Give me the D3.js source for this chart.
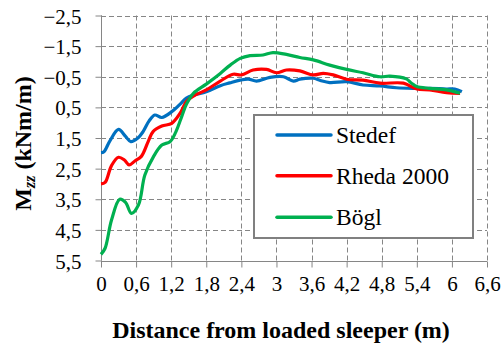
<!DOCTYPE html>
<html>
<head>
<meta charset="utf-8">
<script src="https://cdn.jsdelivr.net/npm/d3@7"></script>
<style>
body{margin:0;background:#fff}
svg{display:block}
svg text{font-family:"Liberation Serif","Times New Roman",Times,serif}
</style>
</head>
<body>
<script>
// tick values
var xTicks=[0,0.6,1.2,1.8,2.4,3,3.6,4.2,4.8,5.4,6,6.6]
var yTicks=[-2.5,-1.5,-0.5,0.5,1.5,2.5,3.5,4.5,5.5]
var seriesNames=["Stedef","Rheda 2000","Bögl"]

// Stedef
var stedefX=[0,0.05,0.15,0.30,0.42,0.51,0.62,0.72,0.82,0.92,1.04,1.21,1.35,1.46,1.58,1.80,2.04,2.2,2.38,2.52,2.66,2.89,3.12,3.29,3.40,3.63,3.75,3.91,4.20,4.48,4.77,5.05,5.34,5.62,5.91,6.05,6.17]
var stedefY=[1.98,1.95,1.6,1.22,1.45,1.62,1.52,1.29,0.95,0.75,0.83,0.64,0.40,0.20,0.10,-0.01,-0.21,-0.30,-0.39,-0.42,-0.36,-0.48,-0.50,-0.36,-0.42,-0.45,-0.38,-0.31,-0.34,-0.23,-0.20,-0.14,-0.12,-0.12,-0.10,-0.10,-0.01]
// Rheda 2000
var rhedaX=[0,0.07,0.18,0.30,0.40,0.48,0.58,0.69,0.81,0.89,1.04,1.21,1.35,1.46,1.58,1.80,2.04,2.26,2.40,2.60,2.83,3.00,3.17,3.40,3.63,3.80,3.97,4.20,4.48,4.77,5.17,5.40,5.62,5.91,6.14]
var rhedaY=[3.0,2.95,2.4,2.13,2.22,2.38,2.25,2.1,1.6,1.29,1.11,1.02,0.70,0.31,0.13,-0.07,-0.36,-0.58,-0.56,-0.72,-0.74,-0.63,-0.72,-0.69,-0.56,-0.61,-0.56,-0.42,-0.39,-0.29,-0.29,-0.10,-0.07,0.02,0.04]
// Bögl
var boeglX=[0,0.07,0.18,0.32,0.42,0.52,0.64,0.75,0.90,1.04,1.18,1.28,1.38,1.46,1.58,1.80,2.04,2.21,2.38,2.55,2.77,2.94,3.17,3.40,3.63,3.91,4.20,4.48,4.77,4.94,5.22,5.31,5.40,5.62,5.91,6.14]
var boeglY=[5.3,5.1,4.18,3.5,3.6,3.96,3.69,2.71,2.1,1.73,1.62,1.3,0.80,0.40,0.04,-0.26,-0.61,-0.88,-1.10,-1.19,-1.21,-1.29,-1.23,-1.13,-1.05,-0.88,-0.74,-0.63,-0.50,-0.52,-0.43,-0.29,-0.18,-0.12,-0.07,0.04]

var colors=["#0070C0","#FF0000","#00B050"]
var width=503,height=343

var loc=d3.formatLocale({decimal:",",thousands:".",grouping:[3],currency:["","€"]})
var fmtY=loc.format(".1f")
var fmtX=loc.format("~g")

var svg=d3.select("body").append("svg")
          .attr("width",width)
          .attr("height",height)

var x=d3.scaleLinear().domain([0,6.6]).range([101,487])
var y=d3.scaleLinear().domain([-2.5,5.5]).range([15.5,260.5])

// grid
svg.append("g").selectAll("line.hg")
   .data(yTicks)
   .enter()
   .append("line")
   .attr("x1",x(0)).attr("x2",x(6.6))
   .attr("y1",function(d){return Math.round(y(d))+0.5})
   .attr("y2",function(d){return Math.round(y(d))+0.5})
   .attr("stroke","#868686")
   .attr("stroke-dasharray","5,3")
svg.append("g").selectAll("line.vg")
   .data(xTicks)
   .enter()
   .append("line")
   .attr("y1",y(-2.5)).attr("y2",y(5.5))
   .attr("x1",function(d){return Math.round(x(d))+0.5})
   .attr("x2",function(d){return Math.round(x(d))+0.5})
   .attr("stroke","#868686")
   .attr("stroke-dasharray","5,3")

// axes
var yAxis=d3.axisLeft(y).tickValues(yTicks).tickFormat(fmtY).tickSize(6).tickPadding(14)
var xAxis=d3.axisBottom(x).tickValues(xTicks).tickFormat(fmtX).tickSize(6).tickPadding(9)
var gy=svg.append("g").attr("transform","translate("+(Math.round(x(0))+0.5)+",0)").call(yAxis)
var gx=svg.append("g").attr("transform","translate(0,"+(Math.round(y(5.5))+0.5)+")").call(xAxis)
gy.attr("font-family",null); gx.attr("font-family",null)
gy.select(".domain").attr("stroke","#868686").attr("d","M0,"+y(-2.5)+"V"+y(5.5))
gx.select(".domain").attr("stroke","#868686").attr("d","M"+x(0)+",0H"+x(6.6))
svg.selectAll(".tick line").attr("stroke","#868686")
svg.selectAll(".tick text")
   .attr("font-size","21px")
   .attr("fill","#000")
gy.selectAll(".tick text").attr("dy","0.36em")

// lines
var line=d3.line()
           .x(function(d){return x(d[0])})
           .y(function(d){return y(d[1])})
           .curve(d3.curveCatmullRom.alpha(0.5))
var series=[d3.zip(stedefX,stedefY),d3.zip(rhedaX,rhedaY),d3.zip(boeglX,boeglY)]
svg.append("g").selectAll("path.s")
   .data(series)
   .enter()
   .append("path")
   .attr("d",line)
   .attr("fill","none")
   .attr("stroke",function(d,i){return colors[i]})
   .attr("stroke-width",3.2)
   .attr("stroke-linejoin","round")

// legend
var lg=svg.append("g")
lg.append("rect")
  .attr("x",254).attr("y",115)
  .attr("width",219).attr("height",123)
  .attr("fill","#fff")
  .attr("stroke","#808080")
  .attr("stroke-width",2)
var rows=lg.selectAll("g.row")
           .data(seriesNames)
           .enter()
           .append("g")
           .attr("transform",function(d,i){return "translate(0,"+[135,175.7,217.3][i]+")"})
rows.append("line")
    .attr("x1",277).attr("x2",331)
    .attr("stroke",function(d,i){return colors[i]})
    .attr("stroke-width",3.5)
    .attr("stroke-linecap","round")
rows.append("text")
    .attr("x",336).attr("y",8)
    .attr("font-size","23.5px")
    .text(function(d){return d})

// axis titles
svg.append("text")
   .attr("x",281).attr("y",338)
   .attr("text-anchor","middle")
   .attr("font-weight","bold")
   .attr("font-size","24px")
   .text("Distance from loaded sleeper (m)")
var yt=svg.append("text")
   .attr("transform","translate(31,143.5) rotate(-90)")
   .attr("text-anchor","middle")
   .attr("font-weight","bold")
   .attr("font-size","24px")
yt.append("tspan").text("M")
yt.append("tspan").attr("font-style","italic").attr("font-size","16px").attr("dy",4).text("zz")
yt.append("tspan").attr("dy",-4).text(" (kNm/m)")
</script>
</body>
</html>
